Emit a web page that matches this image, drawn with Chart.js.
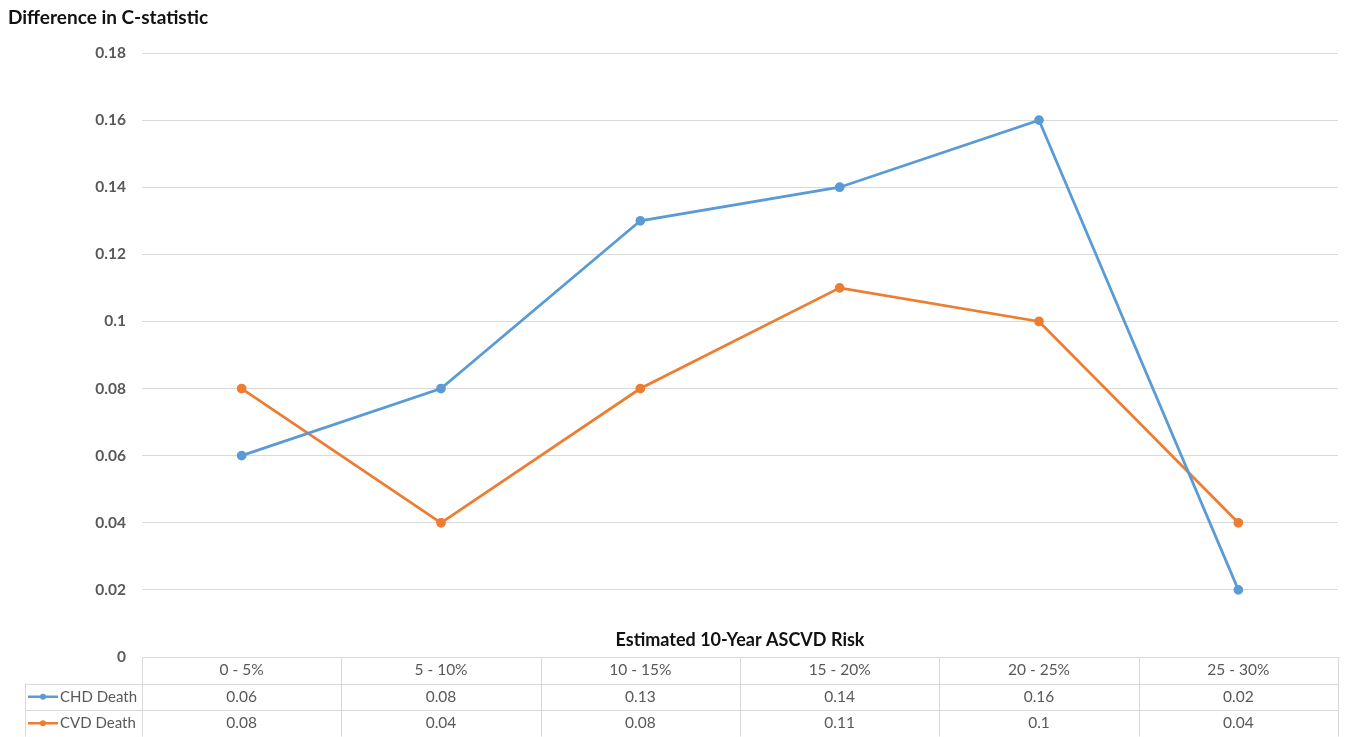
<!DOCTYPE html>
<html>
<head>
<meta charset="utf-8">
<script src="https://cdn.jsdelivr.net/npm/chart.js@4.4.1/dist/chart.umd.min.js"></script>
<style>
  html, body { margin: 0; padding: 0; background: #fff; }
  #wrap { width: 1347px; height: 737px; position: relative; }
</style>
</head>
<body>
<div id="wrap"><canvas id="riskChart"></canvas></div>
<script>
// data
const categories = ['0 - 5%', '5 - 10%', '10 - 15%', '15 - 20%', '20 - 25%', '25 - 30%'];
const chdDeath = [0.06, 0.08, 0.13, 0.14, 0.16, 0.02];
const cvdDeath = [0.08, 0.04, 0.08, 0.11, 0.1, 0.04];
const yTitle = 'Difference in C-statistic';
const xTitle = 'Estimated 10-Year ASCVD Risk';

const FONT = 'Lato, "Open Sans", sans-serif';
const gridColor = '#d9d9d9';
const textColor = '#595959';

// draws the y title and the Excel-style data table under the plot
const tablePlugin = {
  id: 'dataTable',
  afterDraw(chart) {
    const ctx = chart.ctx;
    const area = chart.chartArea;
    const x = chart.scales.x;
    const rowH = 26.5;
    const top = area.bottom;
    const legendLeft = 25;
    const colW = (area.right - area.left) / categories.length;

    ctx.save();
    // titles
    ctx.fillStyle = '#111';
    ctx.font = 'bold 19px ' + FONT;
    ctx.textAlign = 'left';
    ctx.textBaseline = 'middle';
    ctx.fillText(yTitle, 8, 18);
    ctx.font = 'bold 18px ' + FONT;
    ctx.textAlign = 'center';
    ctx.fillText(xTitle, (area.left + area.right) / 2, top - 17);

    // borders
    ctx.strokeStyle = gridColor;
    ctx.lineWidth = 1;
    ctx.beginPath();
    ctx.moveTo(area.left, top + 0.5);
    ctx.lineTo(area.right, top + 0.5);
    for (let r = 1; r <= 3; r++) {
      const yy = Math.round(top + r * rowH) + 0.5;
      ctx.moveTo(legendLeft, yy);
      ctx.lineTo(area.right, yy);
    }
    ctx.moveTo(legendLeft + 0.5, top + rowH);
    ctx.lineTo(legendLeft + 0.5, top + 3 * rowH);
    for (let i = 0; i <= categories.length; i++) {
      const xx = Math.round(area.left + i * colW) + 0.5;
      ctx.moveTo(xx, top);
      ctx.lineTo(xx, top + 3 * rowH);
    }
    ctx.stroke();

    // cells
    ctx.font = '15.5px ' + FONT;
    ctx.fillStyle = textColor;
    ctx.textAlign = 'center';
    categories.forEach((c, i) => {
      const cx = x.getPixelForValue(i);
      ctx.fillText(c, cx, top + rowH * 0.5);
      ctx.fillText(String(chdDeath[i]), cx, top + rowH * 1.5);
      ctx.fillText(String(cvdDeath[i]), cx, top + rowH * 2.5);
    });

    // legend keys in the first column
    ctx.font = '15px ' + FONT;
    chart.data.datasets.forEach((ds, r) => {
      const cy = top + rowH * (r + 1.5);
      ctx.strokeStyle = ds.borderColor;
      ctx.lineWidth = 2.5;
      ctx.beginPath();
      ctx.moveTo(28, cy);
      ctx.lineTo(58, cy);
      ctx.stroke();
      ctx.fillStyle = ds.borderColor;
      ctx.beginPath();
      ctx.arc(43, cy, 3, 0, Math.PI * 2);
      ctx.fill();
      ctx.fillStyle = textColor;
      ctx.textAlign = 'left';
      ctx.fillText(ds.label, 60, cy);
    });
    ctx.restore();
  }
};

var ctx = document.getElementById('riskChart').getContext('2d');
var riskChart = new Chart(ctx, {
  type: 'line',
  data: {
    labels: categories,
    datasets: [{
      label: 'CHD Death',
      data: chdDeath,
      borderColor: '#5b9bd5',
      backgroundColor: '#5b9bd5',
      borderWidth: 2.75,
      pointRadius: 3.5,
      pointHoverRadius: 3.5,
      tension: 0
    }, {
      label: 'CVD Death',
      data: cvdDeath,
      borderColor: '#ed7d31',
      backgroundColor: '#ed7d31',
      borderWidth: 2.75,
      pointRadius: 3.5,
      pointHoverRadius: 3.5,
      tension: 0
    }]
  },
  options: {
    responsive: true,
    maintainAspectRatio: false,
    animation: false,
    layout: { padding: { top: 53, right: 9, bottom: 80, left: 0 } },
    plugins: {
      legend: { display: false },
      tooltip: { enabled: false }
    },
    scales: {
      x: {
        display: false,
        offset: true
      },
      y: {
        min: 0,
        max: 0.18,
        afterFit: (scale) => { scale.width = 142; },
        border: { display: false },
        grid: { color: gridColor, drawTicks: false },
        ticks: {
          stepSize: 0.02,
          padding: 16,
          color: textColor,
          font: { family: FONT, size: 15.5, weight: 'bold' },
          callback: (v) => String(+v.toFixed(2))
        }
      }
    }
  },
  plugins: [tablePlugin]
});
</script>
</body>
</html>
